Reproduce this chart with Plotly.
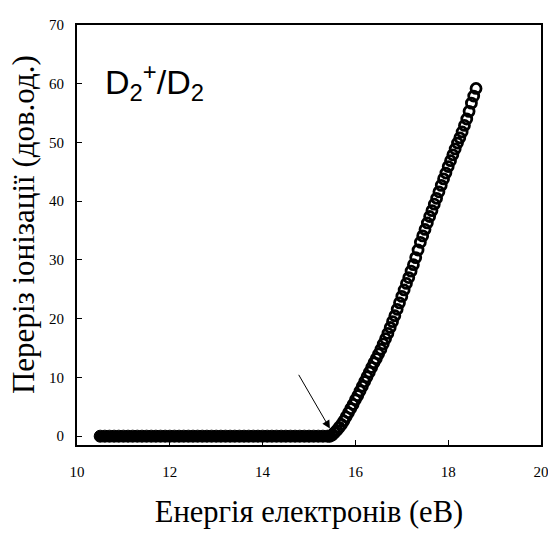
import plotly.graph_objects as go

# Flat (below threshold) part: electron energy (eV) and cross-section (arb. units)
flat_x = [10.5, 10.6, 10.7, 10.8, 10.9, 11.0, 11.1, 11.2, 11.3, 11.4,
          11.5, 11.6, 11.7, 11.8, 11.9, 12.0, 12.1, 12.2, 12.3, 12.4,
          12.5, 12.6, 12.7, 12.8, 12.9, 13.0, 13.1, 13.2, 13.3, 13.4,
          13.5, 13.6, 13.7, 13.8, 13.9, 14.0, 14.1, 14.2, 14.3, 14.4,
          14.5, 14.6, 14.7, 14.8, 14.9, 15.0, 15.1, 15.2, 15.3, 15.4, 15.45]
flat_y = [0.0] * len(flat_x)

# Rising part above the ionisation threshold
rise_x = [15.5, 15.55, 15.6, 15.65, 15.7, 15.75, 15.8, 15.85, 15.9, 15.95,
          16.0, 16.05, 16.1, 16.15, 16.2, 16.25, 16.3, 16.35, 16.4, 16.45,
          16.5, 16.55, 16.6, 16.65, 16.7, 16.75, 16.8, 16.85, 16.9, 16.95,
          17.0, 17.05, 17.1, 17.15, 17.2, 17.25, 17.3, 17.35, 17.4, 17.45,
          17.5, 17.55, 17.6, 17.65, 17.7, 17.75, 17.8, 17.85, 17.9, 17.95,
          18.0, 18.05, 18.1, 18.15, 18.2, 18.25, 18.3, 18.35, 18.4, 18.45,
          18.5, 18.55, 18.6]
rise_y = [0.2, 0.6, 1.0, 1.5, 2.0, 2.6, 3.3, 4.0, 4.7, 5.4,
          6.2, 6.9, 7.7, 8.5, 9.3, 10.1, 10.9, 11.7, 12.5, 13.2,
          14.0, 14.8, 15.7, 16.6, 17.5, 18.5, 19.5, 20.5, 21.6, 22.7,
          23.8, 24.9, 26.0, 27.0, 28.1, 29.2, 30.4, 31.7, 33.0, 34.1,
          35.2, 36.3, 37.4, 38.4, 39.5, 40.5, 41.6, 42.7, 43.8, 44.8,
          45.9, 46.9, 47.9, 48.9, 49.9, 50.8, 51.8, 52.9, 54.0, 55.3,
          56.7, 57.9, 59.2]

x_ticks = [10, 12, 14, 16, 18, 20]
y_ticks = [0, 10, 20, 30, 40, 50, 60, 70]

fig = go.Figure()
fig.add_trace(go.Scatter(
    x=flat_x, y=flat_y, mode="markers",
    marker=dict(symbol="circle", size=12, color="black",
                line=dict(color="black", width=1)),
    showlegend=False))
fig.add_trace(go.Scatter(
    x=rise_x, y=rise_y, mode="markers",
    marker=dict(symbol="circle-open", size=10, color="black",
                line=dict(color="black", width=2.8)),
    showlegend=False))

fig.add_annotation(
    x=15.45, y=1.3, ax=14.76, ay=10.7,
    xref="x", yref="y", axref="x", ayref="y",
    text="", showarrow=True, arrowhead=2, arrowsize=1.6,
    arrowwidth=1, arrowcolor="black")

fig.add_annotation(
    x=0.056, y=0.925, xref="paper", yref="paper",
    text="D<sub>2</sub><sup>+</sup>/D<sub>2</sub>",
    showarrow=False, font=dict(family="Liberation Sans", size=34, color="black"),
    xanchor="left", yanchor="top")

# y-axis title placed as a rotated text
fig.add_annotation(
    x=-0.114, y=0.524, xref="paper", yref="paper",
    text="Переріз іонізації (дов.од.)", textangle=-90,
    showarrow=False, font=dict(family="Liberation Serif", size=31, color="black"),
    xanchor="center", yanchor="middle")

fig.update_layout(
    width=548, height=537,
    margin=dict(l=77, r=7, t=25, b=92, autoexpand=False),
    paper_bgcolor="white", plot_bgcolor="white",
    font=dict(family="Liberation Serif", color="black"),
)

fig.update_xaxes(
    range=[10, 20], tickvals=x_ticks, ticktext=[str(v) for v in x_ticks],
    ticks="inside", ticklen=5, tickwidth=1, tickcolor="black",
    showline=True, linecolor="black", linewidth=2, mirror=True,
    showgrid=False, zeroline=False, automargin=False,
    ticklabeloverflow="allow",
    tickfont=dict(family="Liberation Serif", size=15, color="black"),
    ticklabelstandoff=12,
    title=dict(text="Енергія електронів (еВ)", standoff=22,
               font=dict(family="Liberation Serif", size=30.5, color="black")))

fig.update_yaxes(
    range=[-1.5, 70], tickvals=y_ticks, ticktext=[str(v) for v in y_ticks],
    ticks="inside", ticklen=5, tickwidth=1, tickcolor="black",
    showline=True, linecolor="black", linewidth=2, mirror=True,
    showgrid=False, zeroline=False, automargin=False,
    ticklabeloverflow="allow",
    tickfont=dict(family="Liberation Serif", size=15, color="black"),
    ticklabelstandoff=8)

fig.write_html(
    "out.html",
    config={"displayModeBar": False},
    post_script=("document.body.style.margin='0';"
                 "document.body.style.overflow='hidden';"
                 "document.documentElement.style.overflow='hidden';"))
